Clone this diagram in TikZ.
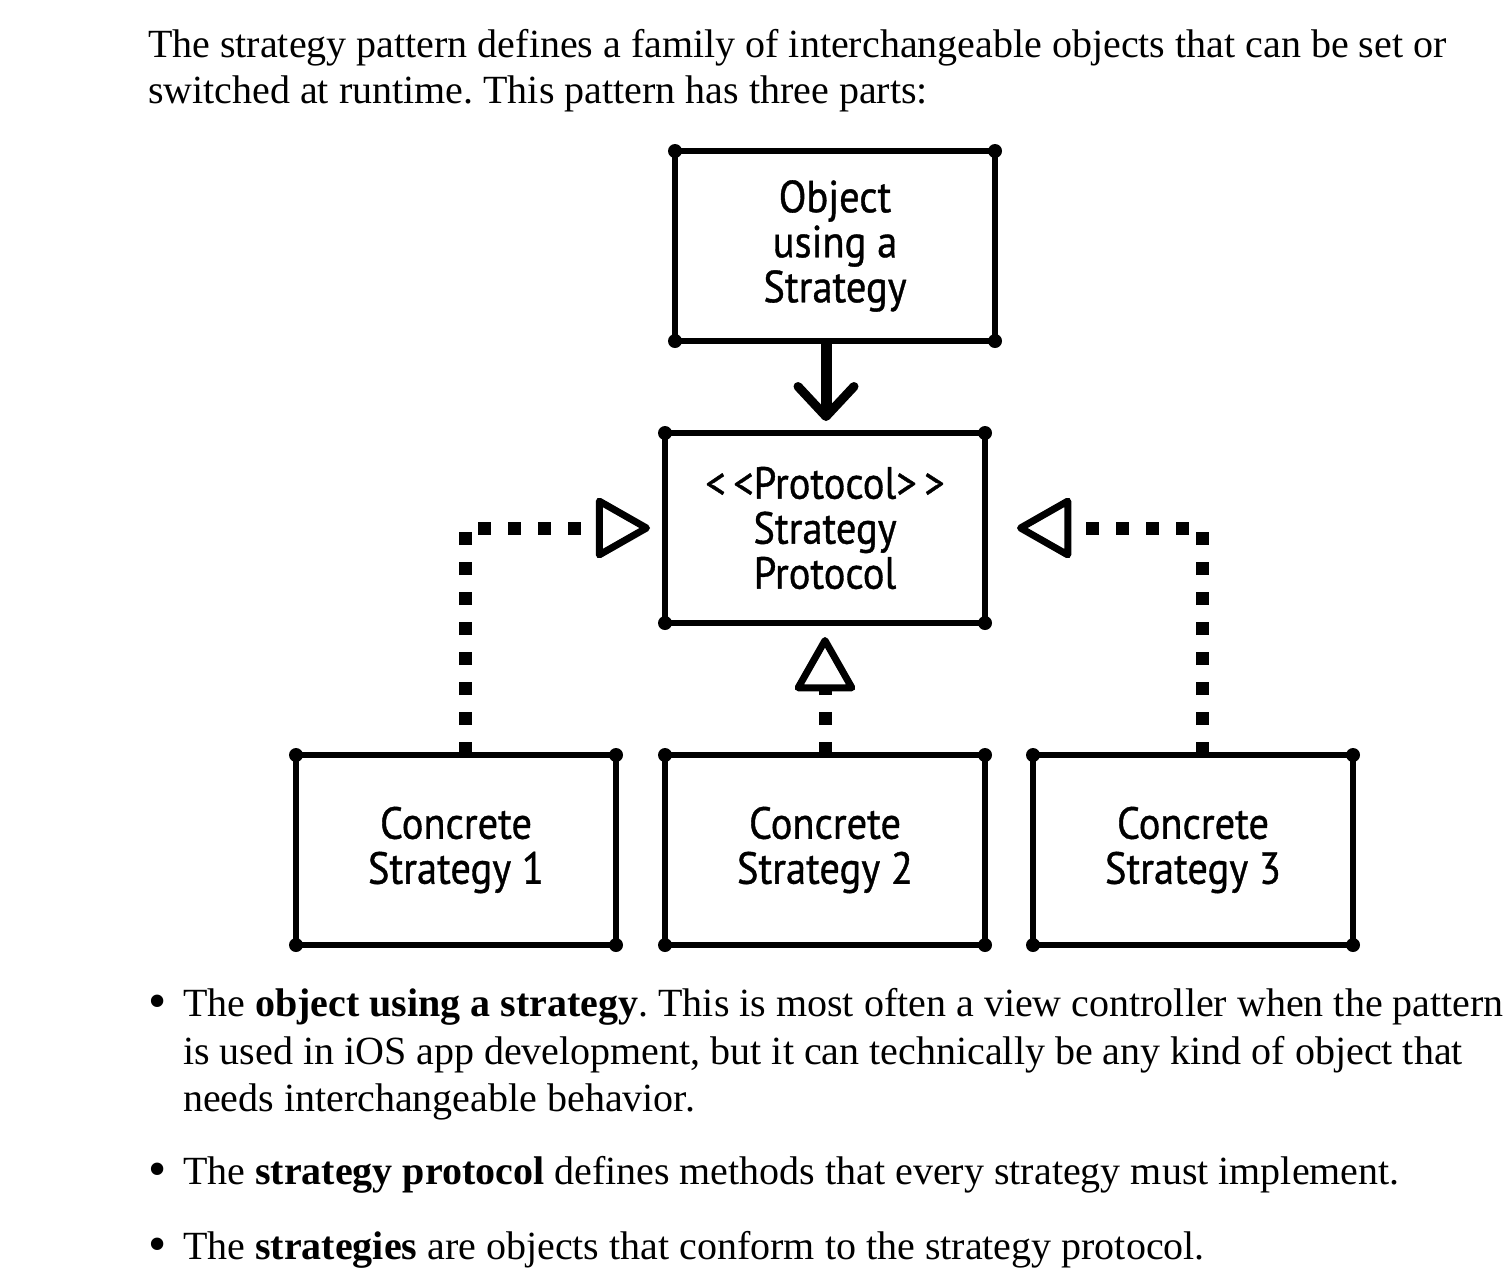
\documentclass[tikz,border=0pt]{standalone}
\usepackage{fontspec}
\setmainfont{Liberation Serif}
\newfontfamily\handfont[FakeStretch=0.9,FakeBold=0.8]{PT Sans}
\usetikzlibrary{arrows.meta}
\frenchspacing

\begin{document}
\begin{tikzpicture}[
        x=1pt, y=-1pt,
        every node/.style={inner sep=0pt, outer sep=0pt},
        box/.style={draw, line width=6pt, line join=round, minimum width=320pt, minimum height=190pt,
            align=center, font=\handfont\fontsize{45}{45}\selectfont},
        prose/.style={anchor=base west, font=\fontsize{40}{46}\selectfont},
        bullet/.style={prose, font=\fontsize{52}{46}\selectfont},
        uses/.style={line width=11pt, -{Straight Barb[length=30pt,width=56pt,line width=9pt 0,round]}},
        realizes/.style={line width=13pt, dash pattern=on 13pt off 17pt,
            -{Triangle[open,round,length=58pt,width=64pt,line width=7pt 0]}},
    ]
    \useasboundingbox (0,0) rectangle (1510,1286);

    \node[prose](intro1) at (148,57){The strategy pattern defines a family of interchangeable objects that can be set or};
    \node[prose](intro2) at (148,103){switched at runtime. This pattern has three parts:};

    \node[box](obj) at (835,246){Object\\using a\\Strategy};
    \node[box](proto) at (825,528){<\,<Protocol>\,>\\Strategy\\Protocol};
    \node[box](cs1) at (456,850){Concrete\\Strategy 1};
    \node[box](cs2) at (825,850){Concrete\\Strategy 2};
    \node[box](cs3) at (1193,850){Concrete\\Strategy 3};
    % blobs where the pen stopped
    \foreach \b in {obj,proto,cs1,cs2,cs3}
        \foreach \c in {north west,north east,south west,south east}
            \fill (\b.\c) circle (7pt);

    \draw[uses, shorten >=12pt] ([xshift=-9pt]obj.south) -- ([xshift=-9pt]obj.south |- proto.north);
    \draw[realizes, shorten >=15pt] ([xshift=9pt]cs1.north) |- (proto.west);
    \draw[realizes, shorten >=14pt] (cs2.north) -- (cs2.north |- proto.south);
    \draw[realizes, shorten >=32pt] ([xshift=9pt]cs3.north) |- (proto.east);

    \node[bullet](dot1) at (148,1018){\textbullet};
    \node[prose](b1a) at (183,1016){The \textbf{object using a strategy}. This is most often a view controller when the pattern};
    \node[prose](b1b) at (183,1064){is used in iOS app development, but it can technically be any kind of object that};
    \node[prose](b1c) at (183,1111){needs interchangeable behavior.};
    \node[bullet](dot2) at (148,1186){\textbullet};
    \node[prose](b2a) at (183,1184){The \textbf{strategy protocol} defines methods that every strategy must implement.};
    \node[bullet](dot3) at (148,1261){\textbullet};
    \node[prose](b3a) at (183,1259){The \textbf{strategies} are objects that conform to the strategy protocol.};
\end{tikzpicture}
\end{document}
